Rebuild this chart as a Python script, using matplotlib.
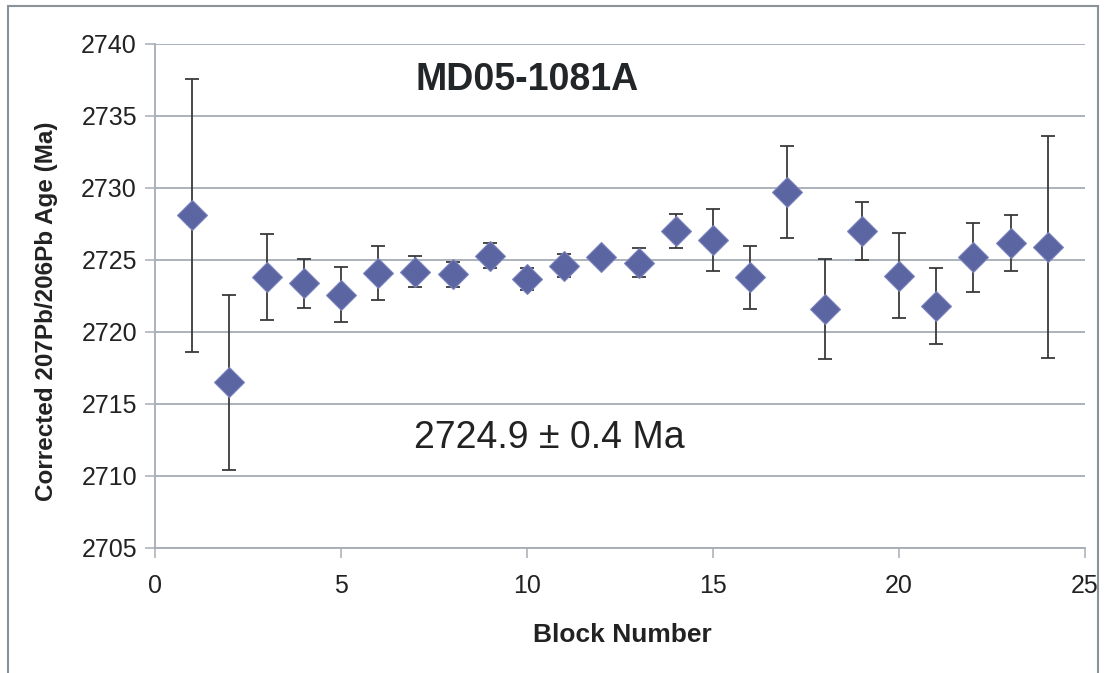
import numpy as np
import matplotlib
matplotlib.use("Agg")
import matplotlib.pyplot as plt
from matplotlib.patches import Rectangle

plt.rcParams['font.family'] = ['Liberation Sans', 'DejaVu Sans']

# block number, age (Ma), 2-sigma error (Ma)
block = [1, 2, 3, 4, 5, 6, 7, 8, 9, 10, 11, 12,
         13, 14, 15, 16, 17, 18, 19, 20, 21, 22, 23, 24]
age = [2728.1, 2716.5, 2723.8, 2723.4, 2722.6, 2724.1, 2724.2, 2724.0,
       2725.3, 2723.7, 2724.6, 2725.2, 2724.8, 2727.0, 2726.4, 2723.8,
       2729.7, 2721.6, 2727.0, 2723.9, 2721.8, 2725.2, 2726.2, 2725.9]
err = [9.5, 6.1, 3.0, 1.7, 1.9, 1.9, 1.1, 0.85,
       0.85, 0.75, 0.8, 0.3, 1.0, 1.2, 2.15, 2.2,
       3.2, 3.5, 2.0, 2.95, 2.65, 2.4, 1.95, 7.7]

title = "MD05-1081A"
mean_label = "2724.9 \u00b1 0.4 Ma"
xticks = [0, 5, 10, 15, 20, 25]
yticks = [2705, 2710, 2715, 2720, 2725, 2730, 2735, 2740]

grey = "#a6adb5"

fig = plt.figure(figsize=(11.04, 6.73), dpi=100)
ax = fig.add_axes([155 / 1104, 1 - 548 / 673, 930 / 1104, 504 / 673])

fig.patches.append(Rectangle((8 / 1104, -0.1), 1090 / 1104, 1.1 - 6 / 673,
                             transform=fig.transFigure, fill=False,
                             edgecolor="#8a9199", lw=1.5))

ax.errorbar(block, age, yerr=err, fmt="none", ecolor="#3a3a3a",
            elinewidth=1.3, capsize=5, capthick=1.3, zorder=3)
ax.plot(block, age, linestyle="none", marker="D", markersize=15,
        markerfacecolor="#5b65a1", markeredgecolor="#7a84bd",
        markeredgewidth=0.8, zorder=4)

ax.set_xlim(0, 25)
ax.set_ylim(2705, 2740)
ax.set_xticks(xticks)
ax.set_yticks(yticks)
ax.yaxis.grid(True, color=grey, lw=1.3)
ax.set_axisbelow(True)

for s in ["top", "right"]:
    ax.spines[s].set_visible(False)
for s in ["left", "bottom"]:
    ax.spines[s].set_color(grey)
    ax.spines[s].set_linewidth(1.3)

ax.tick_params(axis="both", direction="out", length=7, width=1.1,
               color=grey, labelsize=18, labelcolor="#222222")
ax.tick_params(axis="y", pad=6)
ax.tick_params(axis="x", pad=12)

ax.set_xlabel("Block Number", fontsize=19, fontweight="bold",
              color="#222222")
ax.xaxis.set_label_coords(0.503, -0.148)
ax.set_ylabel("Corrected 207Pb/206Pb Age (Ma)", fontsize=17.5,
              fontweight="bold", color="#222222")
ax.yaxis.set_label_coords(-0.104, 0.47)

ax.text(0.28, 0.929, title, transform=ax.transAxes, fontsize=27,
        fontweight="bold", color="#222628", ha="left", va="center")
ax.text(0.279, 0.218, mean_label, transform=ax.transAxes, fontsize=27,
        color="#222222", ha="left", va="center")

fig.savefig("out.png", dpi=100)
